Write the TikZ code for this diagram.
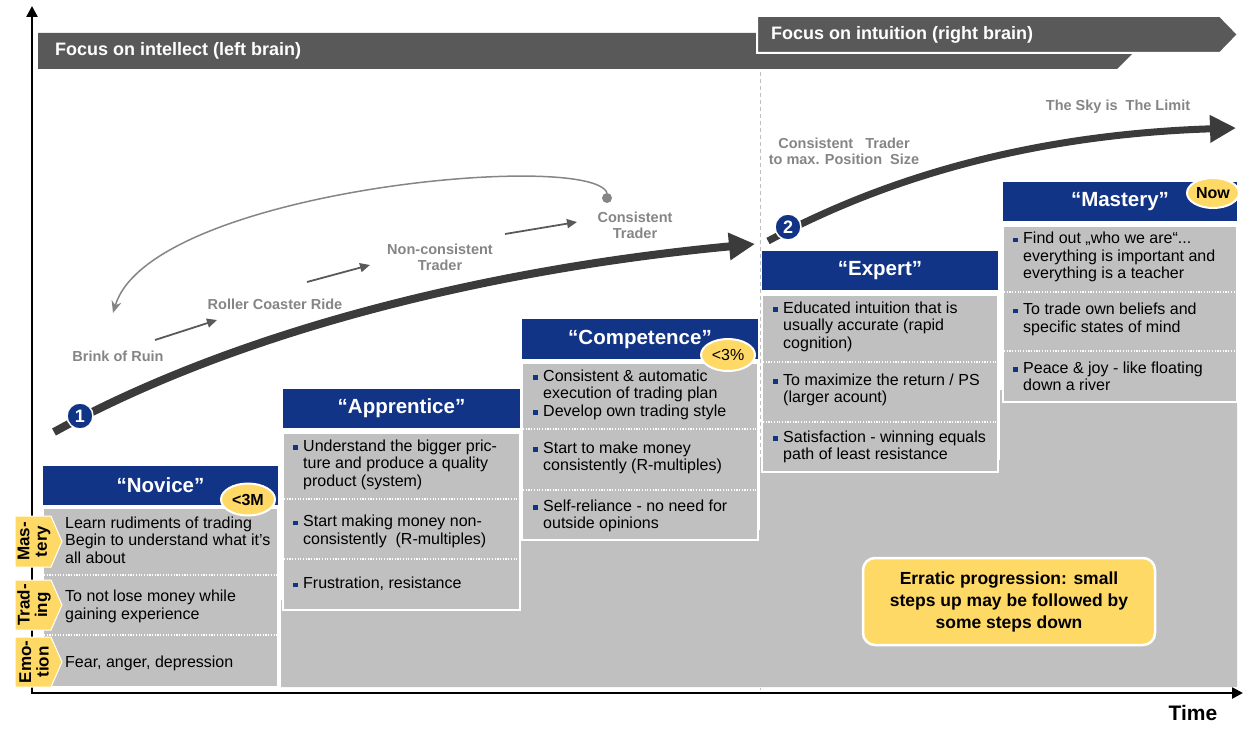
\documentclass[tikz,border=0pt]{standalone}
\usepackage{fontspec}
\setmainfont{Liberation Sans}
\usetikzlibrary{arrows.meta,shapes.geometric}
\definecolor{hdrblue}{HTML}{123486}
\definecolor{cellgray}{HTML}{C0C0C0}
\definecolor{tagyellow}{HTML}{FFD966}
\definecolor{bardark}{HTML}{595959}
\definecolor{curvedark}{HTML}{3B3B3B}
\definecolor{labelgray}{HTML}{858585}
\definecolor{dashgray}{HTML}{BFBFBF}
\newcommand\bu{\makebox[10pt][l]{\textcolor{hdrblue}{\rule[1.5pt]{4.5pt}{4.5pt}}}}
\newcommand\ind{\hspace*{10pt}}
\begin{document}
\begin{tikzpicture}[x=1pt,y=-1pt,
  colbox/.style={fill=cellgray,draw=white,line width=2.5pt},
  dotline/.style={white,line width=1.2pt,dash pattern=on 1.2pt off 1.5pt},
  hdr/.style={fill=hdrblue,text=white,inner sep=0pt,font=\bfseries\fontsize{20.5}{23}\selectfont},
  badge/.style={ellipse,fill=tagyellow,draw=white,line width=2pt,inner sep=0pt,minimum width=54pt,minimum height=32pt,font=\fontsize{16}{18}\selectfont},
  txt/.style={anchor=west,align=left,inner sep=0pt,font=\fontsize{16}{17.5}\selectfont},
  tagshape/.style={fill=tagyellow,draw=white,line width=1pt},
  tagtxt/.style={rotate=90,align=center,inner sep=0pt,font=\bfseries\fontsize{17}{17.5}\selectfont},
  bartxt/.style={anchor=west,text=white,inner sep=0pt,font=\bfseries\fontsize{18}{20}\selectfont},
  lbl/.style={align=center,text=labelgray,inner sep=0pt,font=\bfseries\fontsize{14.5}{16}\selectfont},
  smallarrow/.style={draw=bardark,line width=1.8pt,-{Triangle[length=10pt,width=9pt]}},
  numcirc/.style={circle,fill=hdrblue,draw=white,line width=1.5pt,minimum size=26pt,inner sep=0pt,text=white,font=\bfseries\fontsize{18}{20}\selectfont},
  maincurve/.style={draw=curvedark,line width=8pt,-{Triangle[length=26pt,width=26pt]}},
  axisline/.style={draw=black,line width=2.5pt,{Triangle[length=11pt,width=11pt]}-{Triangle[length=11pt,width=11pt]}}
]
\useasboundingbox (0,0) rectangle (1260,733);

% axes
\coordinate (axY) at (32,6);
\coordinate (ax0) at (32,693);
\coordinate (axX) at (1243,693);
\draw[axisline] (axY) -- (ax0) -- (axX);
\node[font=\bfseries\fontsize{21}{24}\selectfont,inner sep=0pt] (time) at (1193,713) {Time};

% background staircase
\fill[cellgray] (281,687) -- (281,600) -- (520,600) -- (520,530) -- (760,530) -- (760,460)
  -- (1000,460) -- (1000,390) -- (1237,390) -- (1237,687) -- cycle;

% column boxes
\draw[colbox] (43,508) rectangle (278,687);
\draw[colbox] (283,433) rectangle (520,610);
\draw[colbox] (522,363) rectangle (758,540);
\draw[colbox] (762,295) rectangle (998,472);
\draw[colbox] (1003,226) rectangle (1237,402);

% dotted separators
\draw[dotline] (44,575) -- (277,575);
\draw[dotline] (44,635) -- (277,635);
\draw[dotline] (284,499) -- (519,499);
\draw[dotline] (284,559) -- (519,559);
\draw[dotline] (523,429) -- (757,429);
\draw[dotline] (523,490) -- (757,490);
\draw[dotline] (763,362) -- (997,362);
\draw[dotline] (763,422) -- (997,422);
\draw[dotline] (1004,292) -- (1236,292);
\draw[dotline] (1004,351) -- (1236,351);

% headers
\node[hdr,minimum width=235pt,minimum height=39pt] (hNov) at (160.5,485.5) {“Novice”};
\node[hdr,minimum width=237pt,minimum height=39pt] (hApp) at (401.5,408.5) {“Apprentice”};
\node[hdr,minimum width=236pt,minimum height=40pt] (hCom) at (640,339) {“Competence”};
\node[hdr,minimum width=236pt,minimum height=39pt] (hExp) at (880,270.5) {“Expert”};
\node[hdr,minimum width=234pt,minimum height=39pt] (hMas) at (1120,201.5) {“Mastery”};

% badges
\node[badge,font=\bfseries\fontsize{16}{18}\selectfont] (b3M) at (248,499.5) {<3M};
\node[badge] (b3P) at (728,355) {<3\%};
\node[badge,minimum width=52pt,minimum height=30pt,font=\bfseries\fontsize{16}{18}\selectfont] (bNow) at (1213,193) {Now};

% Novice texts
\node[txt] (tN1) at (65,540) {Learn rudiments of trading\\Begin to understand what it's\\all about};
\node[txt] (tN2) at (65,606.5) {To not lose money while\\gaining experience};
\node[txt] (tN3) at (65,663) {Fear, anger, depression};

% Apprentice texts
\node[txt] (tA1) at (293,464.5) {\bu Understand the bigger pric-\\\ind ture and produce a quality\\\ind product (system)};
\node[txt] (tA2) at (293,531.5) {\bu Start making money non-\\\ind consistently~ (R-multiples)};
\node[txt] (tA3) at (293,584) {\bu Frustration, resistance};

% Competence texts
\node[txt] (tC1) at (533,394.5) {\bu Consistent \& automatic\\\ind execution of trading plan\\\bu Develop own trading style};
\node[txt] (tC2) at (533,458) {\bu Start to make money\\\ind consistently (R-multiples)};
\node[txt] (tC3) at (533,516) {\bu Self-reliance - no need for\\\ind outside opinions};

% Expert texts
\node[txt] (tE1) at (773,326.5) {\bu Educated intuition that is\\\ind usually accurate (rapid\\\ind cognition)};
\node[txt] (tE2) at (773,390) {\bu To maximize the return / PS\\\ind (larger acount)};
\node[txt] (tE3) at (773,447) {\bu Satisfaction - winning equals\\\ind path of least resistance};

% Mastery texts
\node[txt] (tM1) at (1013,257) {\bu Find out „who we are“...\\\ind everything is important and\\\ind everything is a teacher};
\node[txt] (tM2) at (1013,319.5) {\bu To trade own beliefs and\\\ind specific states of mind};
\node[txt] (tM3) at (1013,376.5) {\bu Peace \& joy - like floating\\\ind down a river};

% side tags
\fill[tagshape] (15,516) -- (51,516) -- (62,541.5) -- (51,567) -- (15,567) -- cycle;
\node[tagtxt] (tgM) at (34,541.5) {Mas-\\tery};
\fill[tagshape] (15,580) -- (51,580) -- (62,605) -- (51,630) -- (15,630) -- cycle;
\node[tagtxt] (tgT) at (34,605) {Trad-\\ing};
\fill[tagshape] (15,637) -- (51,637) -- (62,662) -- (51,687) -- (15,687) -- cycle;
\node[tagtxt] (tgE) at (34,662) {Emo-\\tion};

% erratic box
\node[fill=tagyellow,draw=white,line width=2.5pt,rounded corners=12pt,minimum width=292pt,minimum height=87pt,
  align=center,inner sep=0pt,font=\bfseries\fontsize{17.5}{22}\selectfont] (err) at (1009,601.5)
  {Erratic progression: small\\steps up may be followed by\\some steps down};

% top bars
\fill[bardark] (38,33) -- (1153,33) -- (1117,69) -- (38,69) -- cycle;
\node[bartxt] (barL) at (55,51) {Focus on intellect (left brain)};
\filldraw[fill=bardark,draw=white,line width=2pt] (757,16) -- (1220,16) -- (1238,34.5) -- (1220,53) -- (757,53) -- cycle;
\node[bartxt] (barR) at (771,35) {Focus on intuition (right brain)};

% dashed divider
\coordinate (dTop) at (760,72);
\coordinate (dBot) at (760,690);
\draw[dashgray,line width=1pt,dash pattern=on 4pt off 3pt] (dTop) -- (dBot);

% gray hook arc
\node[circle,fill=labelgray,minimum size=10pt,inner sep=0pt] (dot) at (607,198) {};
\coordinate (arcEnd) at (113,313);
\draw[labelgray,line width=1.5pt,-{Stealth[length=12pt,width=10pt]}] (dot.north) .. controls (590,150) and (150,190) .. (arcEnd);

% labels
\node[lbl] (lBrink) at (118,356) {Brink of Ruin};
\node[lbl] (lRoller) at (275,304) {Roller Coaster Ride};
\node[lbl] (lNon) at (440,257) {Non-consistent\\Trader};
\node[lbl] (lCons) at (635,225) {Consistent\\Trader};
\node[lbl] (lMax) at (844,151) {Consistent~~ Trader\\to max. Position~ Size};
\node[lbl] (lSky) at (1118,107) {The Sky is~ The Limit};

% small arrows
\coordinate (a1s) at (155,340); \coordinate (a1e) at (217,320);
\coordinate (a2s) at (307,282); \coordinate (a2e) at (370,265);
\coordinate (a3s) at (505,234); \coordinate (a3e) at (577,222);
\draw[smallarrow] (a1s) -- (a1e);
\draw[smallarrow] (a2s) -- (a2e);
\draw[smallarrow] (a3s) -- (a3e);

% main curves
\coordinate (c1s) at (54,432);
\coordinate (c1e) at (755,244);
\draw[maincurve] (c1s) .. controls (245,327) and (500,268) .. (c1e);
\coordinate (c2s) at (768,241);
\coordinate (c2e) at (1236,128);
\draw[maincurve,line width=7pt] (c2s) .. controls (900,170) and (1050,134) .. (c2e);
\node[numcirc] (n1) at (80,416) {1};
\node[numcirc] (n2) at (788,227) {2};
\end{tikzpicture}
\end{document}
